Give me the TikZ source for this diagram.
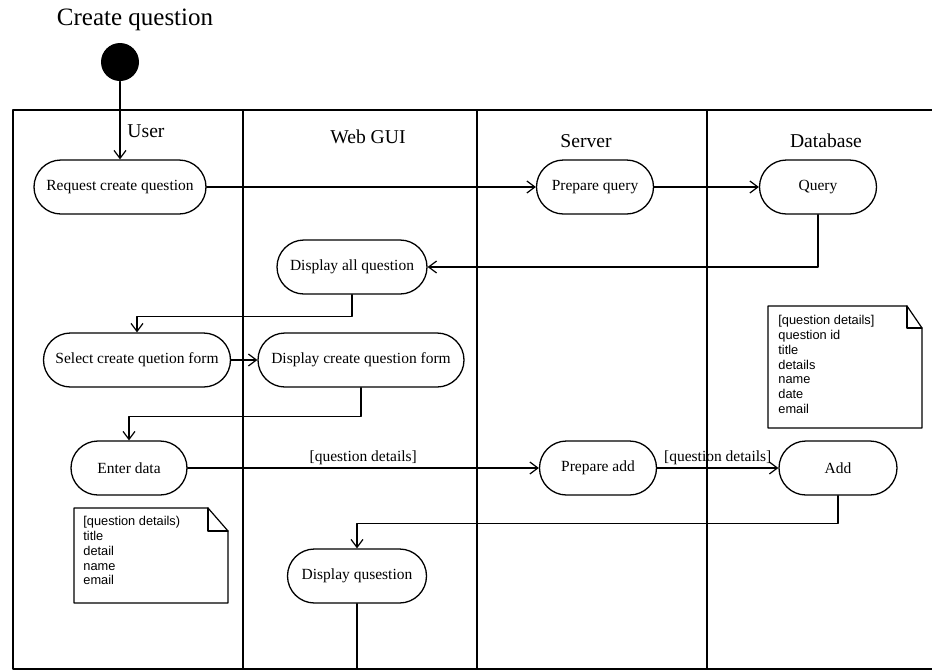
\documentclass[tikz,border=0pt]{standalone}
\usepackage{fontspec}
\setmainfont{Liberation Serif}
\newfontfamily\notefont{Liberation Sans}
\usetikzlibrary{arrows.meta}

\begin{document}
\begin{tikzpicture}[
  x=0.5pt,
  y=-0.5pt,
  line cap=round,
  line join=round,
  act/.style={draw, line width=0.65pt, rounded corners=13.5pt,
    minimum height=27pt, inner sep=2pt,
    font=\fontsize{7.75}{9}\selectfont},
  lane/.style={font=\fontsize{9.8}{11}\selectfont},
  flow/.style={line width=0.6pt, -{Straight Barb[length=4pt,width=6pt]}},
  guard/.style={above, inner sep=1.5pt, font=\fontsize{7.75}{9}\selectfont},
  notetext/.style={anchor=north west, inner sep=0pt, align=left,
    font=\notefont\fontsize{6.4}{7.4}\selectfont}
]
  \useasboundingbox (0,0) rectangle (932,671);

  % Title and start point
  \node[font=\fontsize{12.5}{14}\selectfont] (title) at (135,20) {Create question};
  \node[circle, fill=black, minimum size=19pt, inner sep=0pt] (start) at (120,62) {};

  % Swimlanes
  \draw[line width=0.8pt] (932,110) -- (13,110) -- (13,669) -- (932,669);
  \foreach \x in {243,477,707}
    \draw[line width=0.9pt] (\x,110) -- (\x,669);

  \node[lane] (luser) at (146,131) {User};
  \node[lane] (lgui) at (368,137) {Web GUI};
  \node[lane] (lserver) at (586,141) {Server};
  \node[lane] (ldb) at (826,141) {Database};

  % Activities
  \node[act, minimum width=86pt] (req) at (120,187) {Request create question};
  \node[act, minimum width=58.5pt] (pq) at (595,187) {Prepare query};
  \node[act, minimum width=58.5pt] (query) at (818,187) {Query};
  \node[act, minimum width=75pt] (dall) at (352,267) {Display all question};
  \node[act, minimum width=93.5pt] (sel) at (137,360) {Select create quetion form};
  \node[act, minimum width=103pt] (dcf) at (361,360) {Display create question form};
  \node[act, minimum width=58pt] (enter) at (129,468) {Enter data};
  \node[act, minimum width=58.5pt] (padd) at (598,468) {Prepare add};
  \node[act, minimum width=59pt] (add) at (838,468) {Add};
  \node[act, minimum width=69.5pt] (dq) at (357,576) {Display qusestion};

  % Flows
  \draw[flow] (start) -- (req);
  \draw[flow] (req) -- (pq);
  \draw[flow] (pq) -- (query);
  \draw[flow] (query.south) |- (dall.east);
  \draw[flow] (dall.south) -- ++(0,22) -| (sel.north);
  \draw[flow] (sel) -- (dcf);
  \draw[flow] (dcf.south) -- ++(0,29) -| (enter.north);
  \draw[flow] (enter) -- node[guard] {[question details]} (padd);
  \draw[flow] (padd) -- node[guard] {[question details]} (add);
  \draw[flow] (add.south) -- ++(0,28) -| (dq.north);
  \coordinate (dqend) at (357,669);
  \draw[line width=0.6pt] (dq.south) -- (dqend);

  % Notes
  \draw[line width=0.6pt]
    (74,508) -- (208,508) -- (228,531) -- (228,603) -- (74,603) -- cycle;
  \draw[line width=0.6pt] (208,508) -- (208,531) -- (228,531);
  \node[notetext] (unote) at (83,516)
    {[question details)\\title\\detail\\name\\email};

  \draw[line width=0.6pt]
    (768,306) -- (907,306) -- (922,328) -- (922,428) -- (768,428) -- cycle;
  \draw[line width=0.6pt] (907,306) -- (907,328) -- (922,328);
  \node[notetext] (dbnote) at (778,315)
    {[question details]\\question id\\title\\details\\name\\date\\email};
\end{tikzpicture}
\end{document}
